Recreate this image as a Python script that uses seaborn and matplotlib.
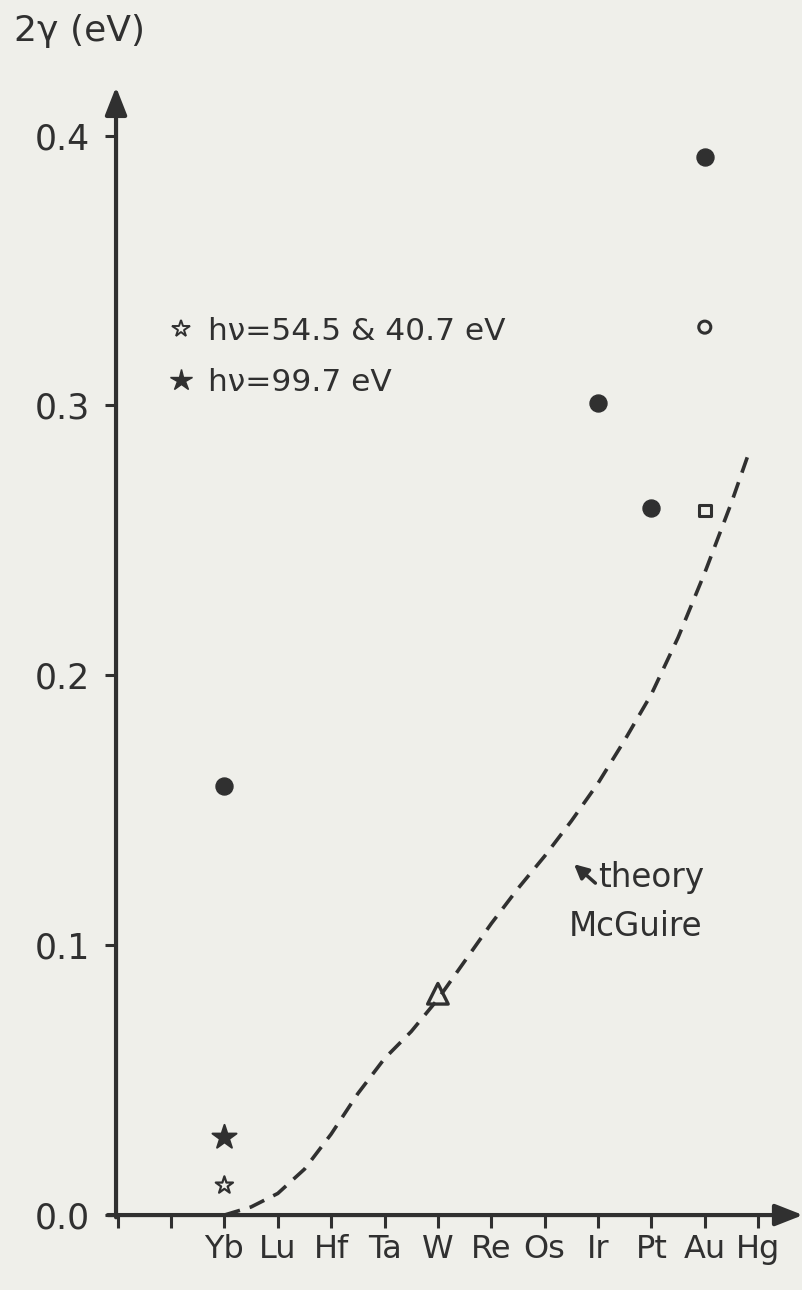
import numpy as np
import pandas as pd
import matplotlib
matplotlib.use("Agg")
import matplotlib.pyplot as plt
import seaborn as sns
from matplotlib.lines import Line2D

# ---------- Data ----------
elements = ['Yb', 'Lu', 'Hf', 'Ta', 'W', 'Re', 'Os', 'Ir', 'Pt', 'Au', 'Hg']

# filled circles
circle_el = ['Yb', 'Ir', 'Pt', 'Au']
circle_val = [0.159, 0.301, 0.262, 0.392]
# other single measurements
open_circle_el = ['Au']
open_circle_val = [0.329]
square_el = ['Au']
square_val = [0.261]
triangle_el = ['W']
triangle_val = [0.082]
star_open_el = ['Yb']
star_open_val = [0.011]
star_full_el = ['Yb']
star_full_val = [0.029]

# theory (McGuire), position along element axis
theory_x = [0, 0.5, 1, 1.5, 2, 2.5, 3, 3.5, 4, 4.5, 5, 5.5, 6, 6.5, 7, 7.5,
            8, 8.5, 9, 9.5, 9.8]
theory_y = [0.000, 0.003, 0.008, 0.017, 0.030, 0.045, 0.058, 0.068, 0.080,
            0.094, 0.108, 0.121, 0.133, 0.146, 0.160, 0.176, 0.193, 0.214,
            0.238, 0.264, 0.281]

ink = '#303030'
bg = '#efefea'

sns.set_theme(style='white')
plt.rcParams['font.family'] = ['DejaVu Sans']
plt.rcParams['text.color'] = ink
plt.rcParams['axes.labelcolor'] = ink
plt.rcParams['xtick.color'] = ink
plt.rcParams['ytick.color'] = ink

fig = plt.figure(figsize=(8.03, 12.90), dpi=100, facecolor=bg)
ax = fig.add_axes([0.1445, 0.0581, 0.8555, 0.8745], facecolor=bg)

pos = {e: i for i, e in enumerate(elements)}


def pts(els, vals):
    return pd.DataFrame({'x': [pos[e] for e in els], 'y': vals})


sns.lineplot(x=theory_x, y=theory_y, ax=ax, color=ink, lw=2.6,
             linestyle=(0, (4.5, 2.8)))

sns.scatterplot(data=pts(circle_el, circle_val), x='x', y='y', ax=ax,
                marker='o', s=150, color=ink, edgecolor=ink, zorder=5)
sns.scatterplot(data=pts(open_circle_el, open_circle_val), x='x', y='y', ax=ax,
                marker='o', s=75, facecolor='none', edgecolor=ink,
                linewidth=2.2, zorder=5)
sns.scatterplot(data=pts(square_el, square_val), x='x', y='y', ax=ax,
                marker='s', s=70, facecolor='none', edgecolor=ink,
                linewidth=2.2, zorder=5)
sns.scatterplot(data=pts(triangle_el, triangle_val), x='x', y='y', ax=ax,
                marker='^', s=220, facecolor='none', edgecolor=ink,
                linewidth=2.4, zorder=5)
sns.scatterplot(data=pts(star_open_el, star_open_val), x='x', y='y', ax=ax,
                marker='*', s=170, facecolor='none', edgecolor=ink,
                linewidth=1.6, zorder=5)
sns.scatterplot(data=pts(star_full_el, star_full_val), x='x', y='y', ax=ax,
                marker='*', s=330, color=ink, edgecolor=ink, zorder=5)

# axes
ax.set_xlim(-2.03, 10.84)
ax.set_ylim(0, 0.418)
for s in ax.spines.values():
    s.set_visible(False)
ax.annotate('', xy=(0, 1), xytext=(0, -0.002), xycoords='axes fraction',
            arrowprops=dict(arrowstyle='-|>,head_length=1.4,head_width=0.55',
                            color=ink, lw=3, shrinkA=0, shrinkB=0))
ax.annotate('', xy=(1, 0), xytext=(-0.012, 0), xycoords='axes fraction',
            arrowprops=dict(arrowstyle='-|>,head_length=1.4,head_width=0.55',
                            color=ink, lw=3, shrinkA=0, shrinkB=0))

ax.set_xticks(range(-2, len(elements)))
ax.set_xticklabels(['', ''] + elements)
ax.set_yticks([0, 0.1, 0.2, 0.3, 0.4])
ax.set_yticklabels(['0.0', '0.1', '0.2', '0.3', '0.4'])
ax.tick_params(axis='x', bottom=True, direction='out', length=9, width=2.2,
               labelsize=23, pad=5)
ax.tick_params(axis='y', left=True, direction='out', length=8, width=2.2,
               labelsize=25, pad=11)
ax.set_xlabel('')
ax.set_ylabel('')

fig.text(0.018, 0.976, '2\u03b3 (eV)', fontsize=26, color=ink, va='center')

# legend for the stars
handles = [Line2D([], [], marker='*', ls='none', ms=13, mfc='none',
                  mec=ink, mew=1.4),
           Line2D([], [], marker='*', ls='none', ms=16, color=ink)]
ax.legend(handles, ['h\u03bd=54.5 & 40.7 eV', 'h\u03bd=99.7 eV'],
          loc='upper left', bbox_to_anchor=(0.052, 0.81), frameon=False,
          fontsize=22.5, handlelength=0.9, handletextpad=0.4,
          labelspacing=0.72, borderpad=0, labelcolor=ink)

# theory annotation
ax.annotate('', xy=(6.55, 0.130), xytext=(6.95, 0.123),
            arrowprops=dict(arrowstyle='-|>,head_length=0.7,head_width=0.35',
                            color=ink, lw=2.5, shrinkA=0, shrinkB=0))
ax.text(7.0, 0.125, 'theory', fontsize=23.5, color=ink, va='center')
ax.text(6.45, 0.107, 'McGuire', fontsize=23.5, color=ink, va='center')

fig.savefig('out.png', dpi=100, facecolor=bg)
